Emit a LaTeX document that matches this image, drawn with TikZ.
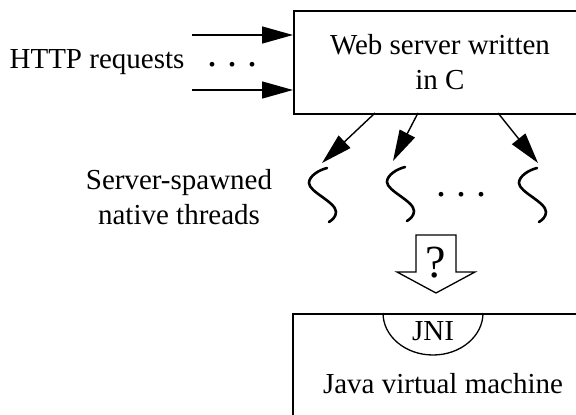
\documentclass[tikz,border=0pt]{standalone}
\usepackage{fontspec}
\setmainfont{Liberation Serif}
\usetikzlibrary{arrows.meta,positioning,calc}
\tikzstyle{box}   =[draw, line width=2pt, inner sep=0pt]
\tikzstyle{edge}  =[line width=1.4pt, -{Triangle[length=31pt,width=17pt]}]
\tikzstyle{thread}=[line width=2.6pt, line cap=round]
\tikzstyle{label} =[inner sep=1pt, fill=none, draw=none, align=center]
\tikzstyle{dots}  =[inner sep=0pt, anchor=base,
                    font=\fontsize{40}{40}\selectfont]
\begin{document}
\begin{tikzpicture}[x=1pt, y=-1pt, font=\fontsize{29}{35}\selectfont]
            \useasboundingbox (0,0) rectangle (576,415);
            \clip (0,0) rectangle (576,415);
            % web server
            \node (server) [box, anchor=north west, minimum width=330pt,
                            minimum height=103pt] at (293,10) {};
            \node (servertext) [label] at (440,62) {Web server written\\in C};
            \node (http) [label] at (97,62) {HTTP requests};
            \node (reqdots) [dots] at (232,66) {.\hspace{10pt}.\hspace{10pt}.};
            \coordinate (in1) at (192,35);
            \coordinate (in2) at (192,90);
            \draw[edge] (in1) to (in1 -| server.west);
            \draw[edge] (in2) to (in2 -| server.west);
            % threads
            \coordinate (out1) at (375,113);
            \coordinate (out2) at (418,113);
            \coordinate (out3) at (498,113);
            \coordinate (t1) at (327,168);
            \coordinate (t2) at (405,167);
            \coordinate (t3) at (537,168);
            \draw[edge] (out1) to (322,163);
            \draw[edge] (out2) to (393,161);
            \draw[edge] (out3) to (538,163);
            \foreach \t in {t1,t2,t3}
                \draw[thread] (\t) .. controls +(-8,2) and +(0,-7) .. ++(-18,15)
                    .. controls +(0,9) and +(0,-10) .. ++(27,29)
                    .. controls +(0,5) and +(3,-2) .. ++(-7,10);
            \node (thrdots) [dots] at (461,196) {.\hspace{10pt}.\hspace{10pt}.};
            \node (spawned) [label] at (179,197) {Server-spawned\\native threads};
            % hollow arrow
            \draw[line width=1.3pt, line join=miter] (416,235) -- (456,235)
                -- (456,272) -- (475,272) -- (436,293) -- (397,272)
                -- (416,272) -- cycle;
            \node (query) [label, font=\fontsize{46}{46}\selectfont] at (436,263) {?};
            % jvm
            \node (jvm) [box, anchor=north west, minimum width=330pt,
                         minimum height=150pt] at (292,313) {};
            \draw[line width=1.3pt] (383,313) arc (180:0:50 and 42);
            \node (jni) [label] at (433,331) {JNI};
            \node (jvmtext) [label] at (443,384) {Java virtual machine};

        \end{tikzpicture}
\end{document}
